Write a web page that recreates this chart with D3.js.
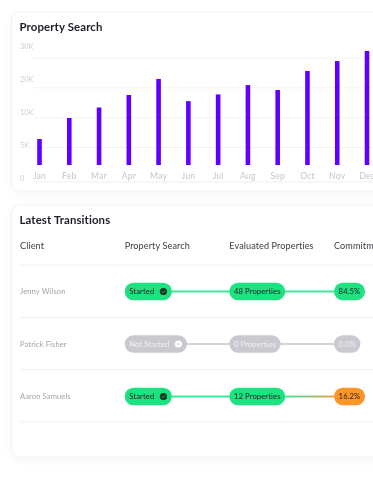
<!DOCTYPE html>
<html><head><meta charset="utf-8">
<script src="https://cdn.jsdelivr.net/npm/d3@7/dist/d3.min.js"></script>
<style>
html,body{margin:0;padding:0;background:#fff;overflow:hidden}
svg{display:block;font-family:Lato,sans-serif;filter:blur(.25px)}
</style></head><body><div id="c"></div>
<script>
const months=["Jan","Feb","Mar","Apr","May","Jun","Jul","Aug","Sep","Oct","Nov","Dec"];
const searches=[6550,11850,14500,17650,21700,16100,17800,20150,18900,23700,26200,28750];
const yTicks=["30K","20K","10K","5K","0"];
const columns=["Client","Property Search","Evaluated Properties","Commitment"];
const clients=["Jenny Wilson","Patrick Fisher","Aaron Samuels"];
const searchStatus=["Started","Not Started","Started"];
const evaluated=["48 Properties","0 Properties","12 Properties"];
const commitment=["84.5%","0.0%","16.2%"];
const commitmentValues=[84.5,0,16.2];

const W=373,H=480;
const svg=d3.select("#c").append("svg").attr("width",W).attr("height",H);
const defs=svg.append("defs");
const sh=defs.append("filter").attr("id","sh").attr("x","-20%").attr("y","-20%").attr("width","140%").attr("height","140%");
sh.append("feDropShadow").attr("dx",0).attr("dy",3).attr("stdDeviation",5).attr("flood-color","#000").attr("flood-opacity",.03);
const grad=defs.append("linearGradient").attr("id","mix");
[[0,"#3ee89b"],[.25,"#3ee89b"],[.55,"#6fc47a"],[.85,"#c9ab52"],[1,"#fb9526"]].forEach(s=>grad.append("stop").attr("offset",s[0]).attr("stop-color",s[1]));

const card=(y,h)=>svg.append("rect").attr("x",11.5).attr("y",y).attr("width",420).attr("height",h).attr("rx",8).attr("fill","#fff").attr("stroke","#f1f1f3").attr("filter","url(#sh)");
card(12,179);card(205,252);

const ink="#1d1d26",mute="#c6c6cc";
const title=(t,y)=>svg.append("text").attr("x",19.5).attr("y",y).attr("font-size",11.4).attr("font-weight",700).attr("letter-spacing",.12).attr("fill",ink).text(t);
title("Property Search",30.5);title("Latest Transitions",223.5);

// chart
const x=d3.scalePoint().domain(months).range([39.5,367]);
const y=d3.scaleLinear().domain([0,30000]).range([165,46]);
const yLabel=d3.scalePoint().domain(yTicks).range([46,178]);
const yGrid=d3.scalePoint().domain(yTicks.slice(0,4)).range([58,147.5]);
svg.append("g").selectAll("line").data(yTicks.slice(0,4)).join("line")
 .attr("x1",33).attr("x2",W).attr("y1",d=>yGrid(d)).attr("y2",d=>yGrid(d)).attr("stroke","#f3f3f5");
svg.append("line").attr("x1",33).attr("x2",W).attr("y1",182).attr("y2",182).attr("stroke","#efeff1");
svg.append("g").selectAll("text").data(yTicks).join("text").attr("x",20).attr("y",d=>yLabel(d)+3)
 .attr("font-size",7.4).attr("fill","#d0d0d5").text(d=>d);
svg.append("g").selectAll("text").data(months).join("text").attr("x",d=>x(d)).attr("y",179)
 .attr("text-anchor","middle").attr("font-size",8.6).attr("fill",mute).attr("letter-spacing",.2).text(d=>d);
svg.append("g").selectAll("rect").data(searches).join("rect")
 .attr("x",(d,i)=>x(months[i])-2.3).attr("width",4.6).attr("y",d=>y(d)).attr("height",d=>y(0)-y(d)).attr("fill","#6200ff");

// table
const colX=d3.scalePoint().domain(columns).range([20,334]);
const rowY=d3.scalePoint().domain(clients).range([291.5,396.5]);
svg.append("g").selectAll("text").data(columns).join("text").attr("x",d=>colX(d)).attr("y",248.5)
 .attr("font-size",9.1).attr("letter-spacing",.1).attr("fill","#3b3b44").text(d=>d);
const sep=d3.scalePoint().domain(d3.range(4)).range([265,422]);
svg.append("g").selectAll("line").data(d3.range(4)).join("line")
 .attr("x1",19.5).attr("x2",W).attr("y1",d=>sep(d)).attr("y2",d=>sep(d)).attr("stroke","#f0f0f2");
svg.append("g").selectAll("text").data(clients).join("text").attr("x",colX("Client")).attr("y",d=>rowY(d)+2.8)
 .attr("font-size",7.6).attr("letter-spacing",.1).attr("fill","#a4a4ac").text(d=>d);

const GREEN="#1ce27f",GREY="#cbc9d0",ORANGE="#fb9526";
clients.forEach((c,i)=>{
  const cy=rowY(c),on=searchStatus[i]==="Started";
  const line=svg.append("g"),pills=svg.append("g");
  const pill=(px,label,fill,txt,icon)=>{
    const g=pills.append("g");
    const t=g.append("text").attr("x",px+4.6).attr("y",cy+2.7).attr("font-size",7.7).attr("letter-spacing",.08).attr("fill",txt).text(label);
    const w=t.node().getComputedTextLength()+9.2+(icon?13:0);
    g.insert("rect","text").attr("x",px).attr("y",cy-8.8).attr("width",w).attr("height",17.6).attr("rx",8.8).attr("fill",fill);
    if(icon){
      const ix=px+w-8.5;
      g.append("circle").attr("cx",ix).attr("cy",cy).attr("r",3.6).attr("fill",on?"#16302a":"#fff");
      if(on) g.append("path").attr("d",`M${ix-1.7} ${cy}l1.2 1.2l2.2-2.3`).attr("fill","none").attr("stroke",GREEN).attr("stroke-width",.8);
      else g.append("path").attr("d",`M${ix-1.2} ${cy-1.2}l2.4 2.4m0-2.4l-2.4 2.4`).attr("stroke",GREY).attr("stroke-width",.8);
    }
    return px+w;
  };
  const p1=colX(columns[1]),p2=colX(columns[2]),p3=colX(columns[3]);
  const late=commitmentValues[i]>0&&commitmentValues[i]<50;
  const col=on?GREEN:GREY;
  line.append("line").attr("x1",p1+20).attr("x2",p2+5).attr("y1",cy).attr("y2",cy).attr("stroke",on?"#3ee89b":"#d4d3d8").attr("stroke-width",1.8);
  if(late){
    grad.attr("gradientUnits","userSpaceOnUse").attr("x1",p2+40).attr("x2",p3).attr("y1",0).attr("y2",0);
    line.append("rect").attr("x",p2+40).attr("width",p3-p2-30).attr("y",cy-.9).attr("height",1.8).attr("fill","url(#mix)");
  } else {
    line.append("line").attr("x1",p2+40).attr("x2",p3+5).attr("y1",cy).attr("y2",cy).attr("stroke",on?"#3ee89b":"#d4d3d8").attr("stroke-width",1.8);
  }
  pill(p1,searchStatus[i],col,on?ink:"#f1f0f3",true);
  pill(p2,evaluated[i],col,on?ink:"#f1f0f3",false);
  pill(p3,commitment[i],late?ORANGE:col,on?ink:"#f1f0f3",false);
});
</script></body></html>
